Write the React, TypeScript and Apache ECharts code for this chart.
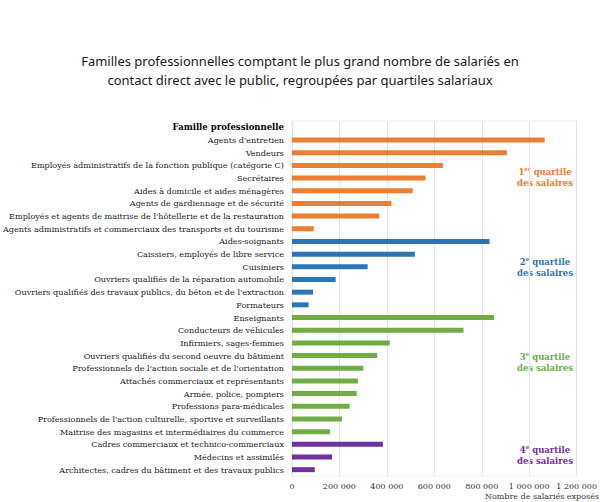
import React, { useEffect, useRef } from "react";
import * as echarts from "echarts";

const header = "Famille professionnelle";
const categories = [
  "Agents d'entretien",
  "Vendeurs",
  "Employés administratifs de la fonction publique (catégorie C)",
  "Secrétaires",
  "Aides à domicile et aides ménagères",
  "Agents de gardiennage et de sécurité",
  "Employés et agents de maitrise de l'hôtellerie et de la restauration",
  "Agents administratifs et commerciaux des transports et du tourisme",
  "Aides-soignants",
  "Caissiers, employés de libre service",
  "Cuisiniers",
  "Ouvriers qualifiés de la réparation automobile",
  "Ouvriers qualifiés des travaux publics, du béton et de l'extraction",
  "Formateurs",
  "Enseignants",
  "Conducteurs de véhicules",
  "Infirmiers, sages-femmes",
  "Ouvriers qualifiés du second oeuvre du bâtiment",
  "Professionnels de l'action sociale et de l'orientation",
  "Attachés commerciaux et représentants",
  "Armée, police, pompiers",
  "Professions para-médicales",
  "Professionnels de l'action culturelle, sportive et surveillants",
  "Maitrise des magasins et intermédiaires du commerce",
  "Cadres commerciaux et technico-commerciaux",
  "Médecins et assimilés",
  "Architectes, cadres du bâtiment et des travaux publics",
];
const values = [
  1065000, 906000, 636000, 563000, 509000, 419000, 368000, 92000,
  833000, 518000, 319000, 184000, 89000, 70000,
  852000, 723000, 412000, 359000, 301000, 278000, 273000, 243000, 211000, 161000,
  383000, 169000, 96000,
];
const quartileOf = [
  1, 1, 1, 1, 1, 1, 1, 1,
  2, 2, 2, 2, 2, 2,
  3, 3, 3, 3, 3, 3, 3, 3, 3, 3,
  4, 4, 4,
];
const quartileColors = ["#ED7D31", "#2E75B6", "#70AD47", "#7030A0"];
const quartileSup = ["er", "e", "e", "e"];

const serif = "'DejaVu Serif', 'Liberation Serif', serif";

function fmt(v: number) {
  return String(v).replace(/\B(?=(\d{3})+(?!\d))/g, " ");
}

export default function App() {
  const ref = useRef<HTMLDivElement>(null);
  useEffect(() => {
    document.body.style.margin = "0";
    if (!ref.current) return;
    const chart = echarts.init(ref.current, undefined, { renderer: "svg" });
    const cats = [header, ...categories];
    const data: any[] = [
      null,
      ...values.map((v, i) => ({
        value: v,
        itemStyle: { color: quartileColors[quartileOf[i] - 1] },
      })),
    ];
    const qLabel = (i: number, y: number) => {
      const c = quartileColors[i - 1];
      return {
        type: "text",
        x: 545,
        y,
        style: {
          text: `{n|${i}}{s|${quartileSup[i - 1]}}{t| quartile}\n{t|des salaires}`,
          align: "center",
          verticalAlign: "top",
          rich: {
            n: { fontFamily: serif, fontSize: 8.5, fontWeight: "bold", fill: c, lineHeight: 11.5 },
            s: { fontFamily: serif, fontSize: 5.5, fontWeight: "bold", fill: c, verticalAlign: "top", lineHeight: 11.5 },
            t: { fontFamily: serif, fontSize: 8.5, fontWeight: "bold", fill: c, lineHeight: 11.5 },
          },
        },
      };
    };
    chart.setOption({
      animation: false,
      title: {
        text: "Familles professionnelles comptant le plus grand nombre de salariés en\ncontact direct avec le public, regroupées par quartiles salariaux",
        left: "center",
        top: 46,
        textStyle: {
          fontFamily: "'Noto Sans', sans-serif",
          fontSize: 13,
          fontWeight: "normal",
          color: "#1a1a1a",
          lineHeight: 19,
        },
      },
      grid: {
        left: 287,
        right: 19,
        top: 121,
        bottom: 26,
        show: true,
        borderColor: "#EDEDED",
        borderWidth: 1,
      },
      xAxis: {
        type: "value",
        min: 0,
        max: 1200000,
        interval: 200000,
        axisLine: { show: false },
        axisTick: { show: false },
        splitLine: { lineStyle: { color: "#E3E3E3", width: 1 } },
        axisLabel: {
          fontFamily: serif,
          fontSize: 8,
          color: "#333",
          margin: 6,
          formatter: (v: number) => fmt(v),
        },
      },
      yAxis: {
        type: "category",
        data: cats,
        inverse: true,
        axisLine: { show: false },
        axisTick: { show: false },
        axisLabel: {
          fontFamily: serif,
          fontSize: 8.1,
          color: "#222",
          margin: 8,
          interval: 0,
          formatter: (v: string) => (v === header ? `{b|${v}}` : v),
          rich: {
            b: { fontFamily: serif, fontSize: 8.5, fontWeight: "bold", color: "#000" },
          },
        },
      },
      series: [
        {
          type: "bar",
          data,
          barWidth: 5,
        },
      ],
      graphic: [
        qLabel(1, 166),
        qLabel(2, 256),
        qLabel(3, 351),
        qLabel(4, 444),
        {
          type: "text",
          right: 1,
          top: 492,
          style: {
            text: "Nombre de salariés exposés",
            fontFamily: serif,
            fontSize: 8,
            fill: "#333",
          },
        },
      ],
    });
    return () => chart.dispose();
  }, []);
  return <div ref={ref} style={{ width: 600, height: 502 }} />;
}
